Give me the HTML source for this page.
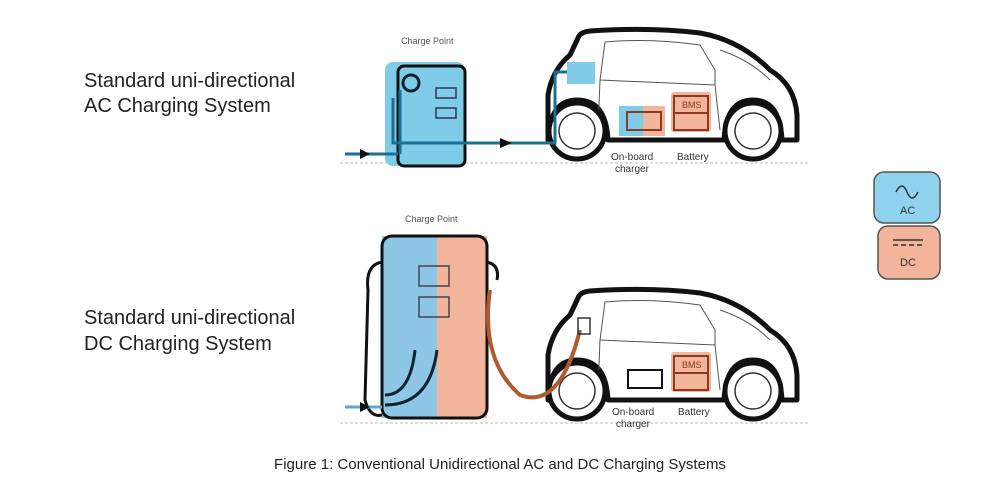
<!DOCTYPE html>
<html><head><meta charset="utf-8"><style>
html,body{margin:0;padding:0;background:#fff}
svg{display:block}
text{font-family:"Liberation Sans",sans-serif}
</style></head><body>
<svg width="1000" height="487" viewBox="0 0 1000 487" xmlns="http://www.w3.org/2000/svg">
<defs>
<g id="car">
  <path d="M548,140 L548,95 Q552,70 570,55 L578,38 Q580,32 590,31 Q650,27 700,33 Q740,40 770,70 Q795,85 797,115 L797,140 L782,140 Q780,100 753,100 Q726,100 724,140 L608,140 Q606,100 577,100 Q550,100 548,140 Z" fill="#fff" stroke="#111" stroke-width="5" stroke-linejoin="round"/>
  <path d="M605,42 Q650,38 700,45 L715,70 L715,85 L600,80 Z" fill="none" stroke="#555" stroke-width="1"/>
  <path d="M600,80 L598,130 M715,85 L720,130" fill="none" stroke="#555" stroke-width="1"/>
  <path d="M720,50 Q750,60 770,80" fill="none" stroke="#555" stroke-width="1"/>
  <circle cx="577" cy="131" r="28" fill="#fff" stroke="#111" stroke-width="5"/>
  <circle cx="577" cy="131" r="18" fill="none" stroke="#333" stroke-width="1.5"/>
  <circle cx="753" cy="131" r="28" fill="#fff" stroke="#111" stroke-width="5"/>
  <circle cx="753" cy="131" r="18" fill="none" stroke="#333" stroke-width="1.5"/>
  <line x1="340" y1="163" x2="810" y2="163" stroke="#bbb" stroke-width="1" stroke-dasharray="3,2"/>
</g>
</defs>
<text x="84" y="87" font-size="20" fill="#222">Standard uni-directional</text>
<text x="84" y="112" font-size="20" fill="#222">AC Charging System</text>
<text x="84" y="324" font-size="20" fill="#222">Standard uni-directional</text>
<text x="84" y="350" font-size="20" fill="#222">DC Charging System</text>

<!-- AC system -->
<use href="#car"/>
<text x="401" y="44" font-size="9" fill="#555">Charge Point</text>
<rect x="385" y="62" width="80" height="104" rx="8" fill="#7fcce8"/>
<rect x="398" y="66" width="67" height="100" rx="6" fill="none" stroke="#111" stroke-width="3"/>
<circle cx="411" cy="83" r="8" fill="#7fcce8" stroke="#123" stroke-width="3"/>
<rect x="436" y="88" width="20" height="10" fill="none" stroke="#335" stroke-width="1.5"/>
<rect x="436" y="108" width="20" height="10" fill="none" stroke="#335" stroke-width="1.5"/>
<path d="M345,154 L398,154 M393,98 L393,143 L555,143 L555,72 L575,72" fill="none" stroke="#1b6f93" stroke-width="3"/>
<path d="M400,154 L400,90" stroke="#1b6f93" stroke-width="3"/>
<polygon points="360,149 370,154 360,159" fill="#111"/>
<polygon points="500,138 512,143 500,148" fill="#111"/>
<rect x="567" y="62" width="28" height="22" fill="#7fcce8"/>
<rect x="619" y="106" width="24" height="30" fill="#7fcce8"/>
<rect x="643" y="106" width="22" height="30" fill="#f2b49a"/>
<rect x="627" y="112" width="34" height="18" fill="none" stroke="#8a3b20" stroke-width="2"/>
<rect x="671" y="92" width="40" height="40" rx="3" fill="#f2b49a"/>
<rect x="674" y="96" width="34" height="34" fill="none" stroke="#8a3b20" stroke-width="2"/>
<line x1="674" y1="113" x2="708" y2="113" stroke="#8a3b20" stroke-width="2"/>
<text x="682" y="108" font-size="9" fill="#8a3b20">BMS</text>
<text x="611" y="160" font-size="10" fill="#333">On-board</text>
<text x="615" y="172" font-size="10" fill="#333">charger</text>
<text x="677" y="160" font-size="10" fill="#333">Battery</text>

<!-- DC system -->
<g transform="translate(0,260)"><use href="#car"/></g>
<text x="405" y="222" font-size="9" fill="#555">Charge Point</text>
<rect x="382" y="236" width="55" height="182" fill="#8ec6e6"/>
<rect x="437" y="236" width="50" height="182" fill="#f2b49a"/>
<rect x="382" y="236" width="105" height="182" rx="10" fill="none" stroke="#111" stroke-width="3"/>
<rect x="419" y="266" width="30" height="20" fill="none" stroke="#445" stroke-width="1.5"/>
<rect x="419" y="297" width="30" height="20" fill="none" stroke="#445" stroke-width="1.5"/>
<path d="M382,262 Q365,265 368,290 L365,400 Q370,418 382,415" fill="none" stroke="#111" stroke-width="3"/>
<path d="M487,262 Q500,265 497,280" fill="none" stroke="#111" stroke-width="3"/>
<path d="M415,350 Q410,395 385,395 M437,350 Q430,405 385,405" fill="none" stroke="#123" stroke-width="3"/>
<path d="M345,407 L382,407" stroke="#5aa8d8" stroke-width="3"/>
<polygon points="360,402 370,407 360,412" fill="#111"/>
<path d="M490,290 Q480,360 520,395 Q560,410 580,330" fill="none" stroke="#b05a30" stroke-width="4"/>
<rect x="578" y="318" width="12" height="16" fill="none" stroke="#333" stroke-width="1.5"/>
<rect x="628" y="370" width="34" height="18" fill="none" stroke="#111" stroke-width="2"/>
<rect x="671" y="352" width="40" height="40" rx="3" fill="#f2b49a"/>
<rect x="674" y="356" width="34" height="34" fill="none" stroke="#8a3b20" stroke-width="2"/>
<line x1="674" y1="373" x2="708" y2="373" stroke="#8a3b20" stroke-width="2"/>
<text x="682" y="368" font-size="9" fill="#8a3b20">BMS</text>
<text x="612" y="415" font-size="10" fill="#333">On-board</text>
<text x="616" y="427" font-size="10" fill="#333">charger</text>
<text x="678" y="415" font-size="10" fill="#333">Battery</text>

<!-- Legend -->
<rect x="874" y="172" width="66" height="51" rx="10" fill="#8fd3ee" stroke="#555" stroke-width="1.5"/>
<path d="M896,192 Q902,180 907,192 Q912,204 918,192" fill="none" stroke="#333" stroke-width="1.5"/>
<text x="900" y="214" font-size="11" fill="#333">AC</text>
<rect x="878" y="226" width="62" height="53" rx="10" fill="#f2b49a" stroke="#555" stroke-width="1.5"/>
<line x1="893" y1="240" x2="923" y2="240" stroke="#333" stroke-width="1.5"/>
<line x1="893" y1="245" x2="923" y2="245" stroke="#333" stroke-width="1.5" stroke-dasharray="5,3"/>
<text x="900" y="266" font-size="11" fill="#333">DC</text>

<text x="500" y="469" font-size="15" fill="#222" text-anchor="middle">Figure 1: Conventional Unidirectional AC and DC Charging Systems</text>
</svg>
</body></html>
